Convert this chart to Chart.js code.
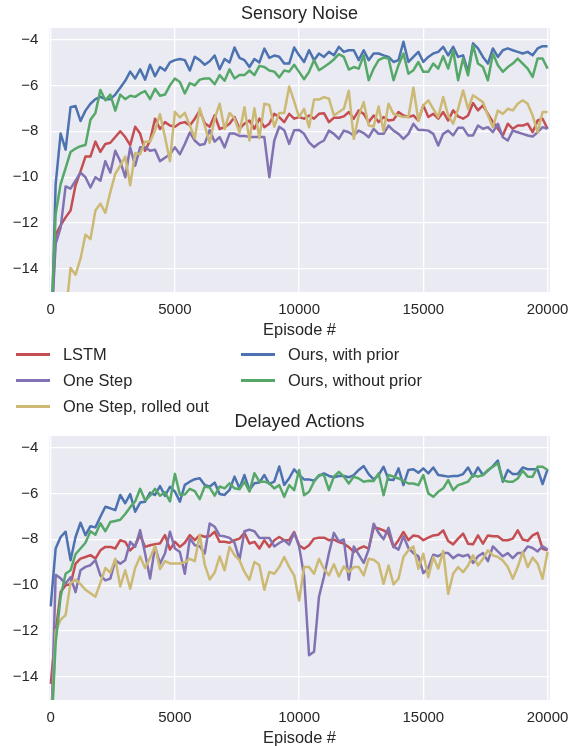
<!DOCTYPE html>
<html>
<head>
<meta charset="utf-8">
<script src="https://cdn.jsdelivr.net/npm/chart.js@4.4.0/dist/chart.umd.min.js"></script>
<style>
  html, body { margin: 0; padding: 0; background: #fff; overflow: hidden; }
  body { width: 577px; height: 746px; position: relative; font-family: "Liberation Sans", Arial, sans-serif; color: #262626; }
  canvas { position: absolute; left: 0; }
  #c1 { top: -8px; }
  #c2 { top: 400px; }
  .leg { position: absolute; font-size: 16.4px; line-height: 20px; height: 20px; white-space: nowrap; }
  .leg .sw { position: absolute; top: 9px; width: 34px; height: 2.6px; }
</style>
</head>
<body>
<canvas id="c1" width="577" height="350"></canvas>
<canvas id="c2" width="577" height="350"></canvas>
<div id="legend"></div>
<script>
// episodes (x grid, every 200)
const episodes = Array.from({length: 101}, (_, i) => i * 200);
const xTicks = [0, 5000, 10000, 15000, 20000];
const yTicks = [-4, -6, -8, -10, -12, -14];

const names = ['LSTM', 'One Step', 'One Step, rolled out', 'Ours, with prior', 'Ours, without prior'];
const colors = ['#C44E52', '#8172B2', '#CCB974', '#4C72B0', '#55A868'];

// ---- Sensory Noise ----
const noiseLstm = [
  -17, -12.5, -12.1, -11.75, -11.45, -10.35, -9.75, -9.1, -9.1, -8.45,
  -8.9, -8.55, -8.5, -8.25, -8.0, -8.25, -8.6, -7.8, -8.1, -8.85,
  -8.4, -7.45, -7.9, -7.6, -7.75, -7.8, -7.65, -7.6, -7.75, -7.45,
  -7.1, -7.65, -7.8, -7.3, -7.9, -7.82, -7.67, -7.38, -7.89, -7.67,
  -7.53, -7.89, -7.45, -7.82, -7.67, -7.24, -7.38, -7.6, -7.24, -7.45,
  -7.38, -7.45, -7.31, -7.45, -7.24, -7.21, -7.6, -7.41, -7.41, -7.35,
  -7.16, -7.45, -7.09, -7.24, -7.6, -7.31, -7.6, -7.38, -7.53, -7.5,
  -7.16, -7.31, -7.38, -7.31, -7.53, -6.87, -7.38, -7.24, -7.45, -7.16,
  -7.53, -7.09, -7.35, -7.45, -7.31, -6.77, -7.09, -6.87, -7.24, -7.6,
  -7.89, -8.18, -7.67, -7.89, -7.75, -7.75, -7.67, -8.04, -7.53, -7.45,
  -7.89
];
const noiseOneStep = [
  -17, -12.9, -12.2, -10.4, -10.5, -10.15, -9.8, -10.0, -10.45, -10.0,
  -10.15, -9.3, -9.8, -8.85, -9.3, -10.0, -8.7, -9.5, -8.7, -8.7,
  -8.85, -8.8, -9.3, -9.15, -9.0, -8.7, -9.0, -8.55, -8.05, -8.4,
  -8.6, -8.55, -7.95, -8.45, -8.25, -8.7, -8.1, -8.1, -8.2, -8.2,
  -8.25, -8.25, -8.25, -8.25, -10.0, -8.4, -7.8, -7.95, -8.55, -7.95,
  -7.94, -8.11, -8.48, -8.69, -8.52, -8.4, -7.97, -8.11, -8.33, -7.97,
  -8.04, -8.18, -7.97, -8.08, -8.26, -7.89, -8.11, -8.11, -7.75, -7.97,
  -8.11, -8.33, -8.11, -7.67, -7.94, -7.94, -7.97, -8.11, -8.62, -8.11,
  -7.97, -8.18, -7.85, -7.85, -8.18, -8.18, -7.75, -7.89, -7.82, -8.04,
  -7.67, -8.26, -8.4, -7.97, -8.04, -8.11, -8.18, -8.23, -8.04, -7.82,
  -7.89
];
const noiseRolled = [
  -19, -18, -17, -16, -13.95, -14.25, -13.55, -12.5, -12.7, -11.45,
  -11.15, -11.55, -10.65, -9.85, -9.5, -9.1, -10.35, -8.95, -9.0, -8.45,
  -8.45, -7.95, -7.25, -8.25, -9.3, -7.15, -7.4, -7.2, -7.75, -8.3,
  -7.0, -7.75, -8.5, -7.45, -6.8, -7.9, -7.2, -7.45, -8.05, -6.95,
  -8.4, -7.0, -8.3, -6.8, -6.85, -7.8, -7.2, -7.2, -6.05, -6.7,
  -7.38, -7.02, -7.82, -6.62, -6.62, -6.51, -6.58, -7.31, -7.16, -7.02,
  -6.24, -8.33, -7.31, -6.73, -7.75, -7.79, -6.92, -8.0, -6.8, -7.24,
  -7.31, -7.38, -7.38, -6.1, -7.53, -6.87, -6.65, -7.02, -7.38, -6.51,
  -7.31, -7.67, -7.02, -6.22, -7.02, -6.43, -6.58, -6.73, -7.31, -7.82,
  -7.09, -7.24, -7.02, -7.09, -6.8, -6.65, -6.8, -7.31, -8.04, -7.16,
  -7.16
];
const noisePrior = [
  -18, -10.3, -8.1, -8.8, -6.95, -6.9, -7.55, -7.1, -6.8, -6.6,
  -6.5, -6.6, -6.6, -6.4, -6.1, -5.8, -5.4, -5.7, -5.3, -5.75,
  -5.1, -5.6, -5.2, -5.35, -5.0, -4.9, -4.85, -4.9, -5.35, -4.75,
  -4.9, -5.1, -4.95, -4.7, -5.3, -4.85, -5.0, -4.35, -4.8, -4.9,
  -5.2, -4.85, -5.0, -4.4, -4.8, -4.7, -4.75, -5.05, -5.05, -4.35,
  -4.69, -4.98, -4.47, -4.9, -4.61, -4.76, -4.54, -4.69, -4.32, -4.54,
  -4.47, -4.47, -4.9, -4.47, -4.9, -4.61, -4.61, -4.69, -4.76, -4.98,
  -4.9, -4.1, -4.98, -4.76, -4.54, -4.98, -4.76, -4.61, -4.54, -4.32,
  -4.69, -4.32, -4.76, -4.69, -5.41, -4.17, -4.39, -4.76, -5.05, -4.39,
  -4.76, -4.47, -4.39, -4.47, -4.54, -4.61, -4.54, -4.69, -4.39, -4.29,
  -4.29
];
const noiseNoPrior = [
  -17, -11.6, -10.3, -9.6, -8.9, -8.75, -8.65, -8.6, -7.5, -7.2,
  -6.2, -6.65, -6.4, -7.1, -6.4, -6.6, -6.45, -6.5, -6.35, -6.25,
  -6.6, -6.15, -6.45, -6.4, -6.0, -5.7, -5.85, -6.35, -5.9, -6.0,
  -5.75, -5.7, -5.7, -5.95, -5.55, -5.8, -5.3, -5.7, -5.55, -5.55,
  -5.35, -5.55, -5.15, -5.2, -5.35, -5.4, -5.65, -5.35, -5.4, -5.1,
  -5.41, -5.73, -5.41, -4.9, -5.34, -5.2, -5.05, -4.87, -4.64, -4.76,
  -5.31, -5.2, -5.27, -4.69, -5.78, -5.27, -4.9, -4.79, -4.83, -5.78,
  -5.12, -4.61, -5.49, -5.34, -4.98, -5.41, -5.41, -5.05, -5.27, -4.73,
  -5.27, -4.47, -5.78, -4.83, -5.56, -4.25, -5.05, -5.2, -5.78, -4.61,
  -5.12, -5.41, -5.2, -5.05, -4.83, -5.05, -5.27, -5.63, -4.83, -4.83,
  -5.27
];

// ---- Delayed Actions ----
const delayLstm = [
  -14.3, -12.05, -10.3, -10.0, -9.96, -9.06, -8.84, -8.77, -8.69, -8.84,
  -8.48, -8.33, -8.33, -8.4, -8.04, -8.11, -8.48, -8.26, -7.82, -8.33,
  -8.26, -8.21, -8.18, -7.82, -8.45, -8.11, -8.33, -8.15, -7.82, -8.04,
  -7.82, -7.89, -7.86, -7.67, -8.11, -8.11, -8.15, -8.04, -7.97, -7.72,
  -8.18, -8.11, -8.4, -8.04, -8.33, -8.04, -7.9, -8.04, -8.04, -7.68,
  -8.26, -8.41, -8.26, -7.97, -7.93, -7.93, -8.04, -8.01, -8.12, -8.19,
  -8.34, -8.55, -8.41, -8.31, -8.41, -7.49, -7.53, -7.61, -7.75, -8.34,
  -8.04, -7.68, -8.04, -7.83, -7.87, -8.04, -7.93, -7.83, -7.8, -7.61,
  -8.07, -8.22, -7.97, -7.75, -8.19, -8.22, -7.83, -8.19, -7.83, -7.87,
  -7.87, -8.04, -8.04, -7.97, -7.61, -8.01, -8.07, -7.83, -7.72, -8.41,
  -8.48
];
const delayOneStep = [
  -17, -9.55, -9.7, -9.93, -9.65, -10.3, -9.35, -9.2, -9.13, -8.91,
  -9.57, -9.79, -9.71, -8.91, -9.06, -8.91, -8.11, -8.33, -7.6, -8.62,
  -9.71, -8.33, -9.06, -8.62, -7.67, -8.4, -8.55, -9.5, -7.97, -8.26,
  -8.3, -8.62, -7.31, -7.45, -7.84, -7.87, -7.94, -8.16, -8.89, -7.65,
  -7.58, -7.65, -7.94, -7.94, -7.94, -8.31, -8.16, -8.04, -8.23, -7.72,
  -8.31, -9.6, -13.05, -12.9, -10.5, -9.63, -8.61, -7.72, -8.09, -8.01,
  -9.76, -8.31, -8.67, -9.03, -8.45, -7.32, -7.72, -8.0, -7.5, -8.31,
  -8.45, -7.87, -8.38, -8.6, -8.74, -9.47, -9.25, -8.67, -8.74, -8.6,
  -8.6, -8.82, -8.67, -8.74, -8.67, -9.03, -8.74, -8.6, -8.95, -8.31,
  -8.53, -8.74, -8.6, -8.82, -8.6, -8.6, -8.31, -8.38, -8.53, -8.31,
  -8.45
];
const delayRolled = [
  -17, -12.0, -11.5, -11.3, -9.9, -9.75, -9.95, -10.2, -10.35, -10.5,
  -9.9, -9.25, -9.45, -8.85, -10.05, -9.35, -10.15, -9.25, -8.75, -9.25,
  -8.8, -8.3, -9.3, -8.95, -9.05, -9.05, -9.05, -9.0, -8.85, -8.95,
  -7.8, -9.1, -9.75, -9.45, -8.75, -9.35, -8.33, -8.69, -8.91, -9.42,
  -9.76, -8.99, -9.13, -10.2, -9.42, -9.5, -9.21, -8.77, -9.21, -9.57,
  -10.67, -9.21, -9.21, -9.5, -8.85, -9.28, -9.57, -9.09, -9.62, -9.18,
  -9.43, -9.21, -9.21, -9.57, -8.85, -8.89, -9.06, -9.94, -9.14, -9.97,
  -9.72, -8.77, -8.48, -8.31, -9.28, -8.63, -9.65, -8.77, -9.28, -8.51,
  -10.38, -9.5, -9.21, -9.43, -9.14, -8.7, -9.14, -8.85, -8.48, -8.7,
  -8.77, -8.92, -9.21, -9.72, -9.21, -8.55, -9.21, -8.8, -9.06, -9.72,
  -8.55
];
const delayPrior = [
  -10.92, -8.4, -7.9, -7.67, -8.91, -7.9, -7.28, -7.82, -7.43, -7.48,
  -7.02, -6.58, -6.65, -6.73, -6.07, -6.43, -6.03, -6.8, -6.4, -6.36,
  -5.97, -6.07, -5.68, -6.11, -5.71, -5.92, -6.36, -5.63, -5.49, -5.38,
  -5.34, -5.63, -5.71, -5.53, -6.03, -6.07, -5.85, -5.27, -5.78, -5.2,
  -5.85, -5.56, -5.53, -5.2, -5.59, -5.49, -4.83, -5.63, -5.34, -4.95,
  -5.2, -5.39, -5.39, -5.45, -5.24, -5.13, -5.24, -5.3, -5.24, -5.24,
  -5.3, -5.2, -4.98, -4.81, -5.16, -5.39, -5.2, -4.84, -5.39, -5.42,
  -4.91, -5.64, -4.98, -4.95, -5.1, -4.91, -5.13, -4.87, -5.2, -5.23,
  -5.27, -5.24, -5.24, -5.16, -4.87, -5.27, -4.87, -5.2, -5.01, -4.81,
  -4.57, -5.49, -4.98, -5.16, -5.16, -4.87, -4.95, -4.95, -4.95, -5.59,
  -4.95
];
const delayNoPrior = [
  -17, -12.5, -10.5, -9.5, -9.35, -8.65, -8.4, -8.15, -7.65, -7.8,
  -7.3, -7.65, -7.25, -7.2, -7.15, -6.9, -6.6, -6.35, -5.8, -6.3,
  -6.1, -5.8, -6.1, -5.95, -6.35, -5.15, -6.05, -6.05, -5.8, -5.9,
  -6.25, -5.7, -5.75, -6.1, -5.7, -5.78, -5.56, -5.78, -5.82, -5.49,
  -5.92, -5.12, -5.49, -5.49, -5.56, -5.78, -5.64, -6.15, -5.64, -5.86,
  -4.98, -6.08, -5.93, -5.49, -5.2, -5.2, -5.86, -5.27, -5.06, -5.27,
  -5.57, -5.27, -5.35, -5.49, -5.45, -5.46, -5.13, -6.08, -5.2, -5.27,
  -5.35, -5.45, -5.57, -5.57, -5.64, -5.2, -6.0, -6.15, -5.93, -5.78,
  -5.42, -5.86, -5.64, -5.57, -5.49, -5.2, -5.27, -5.2, -4.98, -4.84,
  -4.69, -5.42, -5.49, -5.49, -5.35, -5.01, -5.27, -5.27, -4.84, -4.84,
  -4.98
];

const FONT = "'Liberation Sans', Arial, sans-serif";
const TEXT = '#262626';
Chart.defaults.font.family = FONT;
Chart.defaults.color = TEXT;

const bgPlugin = {
  id: 'bg',
  beforeDraw(chart) {
    const a = chart.chartArea, ctx = chart.ctx;
    ctx.save();
    ctx.fillStyle = '#EAEAF2';
    ctx.fillRect(a.left, a.top, a.right - a.left, a.bottom - a.top);
    ctx.restore();
  }
};
const titlePlugin = {
  id: 'plotTitle',
  afterDraw(chart, args, opts) {
    const a = chart.chartArea, ctx = chart.ctx;
    ctx.save();
    ctx.font = '18px ' + FONT;
    ctx.fillStyle = TEXT;
    ctx.textAlign = 'center';
    ctx.textBaseline = 'middle';
    ctx.fillText(opts.text, (a.left + a.right) / 2, a.top - 13.5);
    ctx.restore();
  }
};

function makeChart(id, title, series) {
  const datasets = series.map((vals, k) => ({
    label: names[k],
    data: vals.map((y, i) => ({x: episodes[i], y: y})),
    borderColor: colors[k],
    borderWidth: 2.5,
    pointRadius: 0,
    tension: 0,
    fill: false,
    borderJoinStyle: 'round',
    order: series.length - k
  }));
  return new Chart(document.getElementById(id), {
    type: 'line',
    data: {datasets},
    plugins: [bgPlugin, titlePlugin],
    options: {
      responsive: false,
      animation: false,
      devicePixelRatio: 1,
      events: [],
      layout: {padding: {top: 36, right: 23, left: 0, bottom: 0}},
      plugins: {
        legend: {display: false},
        tooltip: {enabled: false},
        plotTitle: {text: title}
      },
      scales: {
        x: {
          type: 'linear',
          min: -56,
          max: 20090,
          afterBuildTicks: s => { s.ticks = xTicks.map(v => ({value: v})); },
          afterFit: s => { s.height = 50; },
          ticks: {autoSkip: false, maxRotation: 0, padding: 8.5, font: {size: 15}, color: TEXT,
                  callback: v => String(v)},
          grid: {color: '#ffffff', lineWidth: 1.3, drawTicks: false},
          border: {display: false},
          title: {display: true, text: 'Episode #', color: TEXT, font: {size: 16.4, lineHeight: 1.2},
                  padding: {top: 0, bottom: 2}}
        },
        y: {
          type: 'linear',
          min: -15,
          max: -3.5,
          afterBuildTicks: s => { s.ticks = yTicks.map(v => ({value: v})); },
          afterFit: s => { s.width = 49.3; },
          ticks: {padding: 11, font: {size: 15}, color: TEXT,
                  callback: v => String(v).replace('-', '\u2212')},
          grid: {color: '#ffffff', lineWidth: 1.3, drawTicks: false},
          border: {display: false}
        }
      }
    }
  });
}

makeChart('c1', 'Sensory Noise', [noiseLstm, noiseOneStep, noiseRolled, noisePrior, noiseNoPrior]);
makeChart('c2', 'Delayed Actions', [delayLstm, delayOneStep, delayRolled, delayPrior, delayNoPrior]);

// legend, two columns, filled column by column
const legRows = [354, 380, 406];
const legCols = [{line: 16, text: 63}, {line: 241, text: 288}];
const legend = document.getElementById('legend');
names.forEach((n, k) => {
  const col = legCols[Math.floor(k / 3)], row = legRows[k % 3];
  const item = document.createElement('div');
  item.className = 'leg';
  item.style.top = (row - 10) + 'px';
  item.style.left = col.line + 'px';
  const sw = document.createElement('span');
  sw.className = 'sw';
  sw.style.left = '0px';
  sw.style.background = colors[k];
  const tx = document.createElement('span');
  tx.textContent = n;
  tx.style.position = 'absolute';
  tx.style.left = (col.text - col.line) + 'px';
  item.appendChild(sw);
  item.appendChild(tx);
  legend.appendChild(item);
});
</script>
</body>
</html>
